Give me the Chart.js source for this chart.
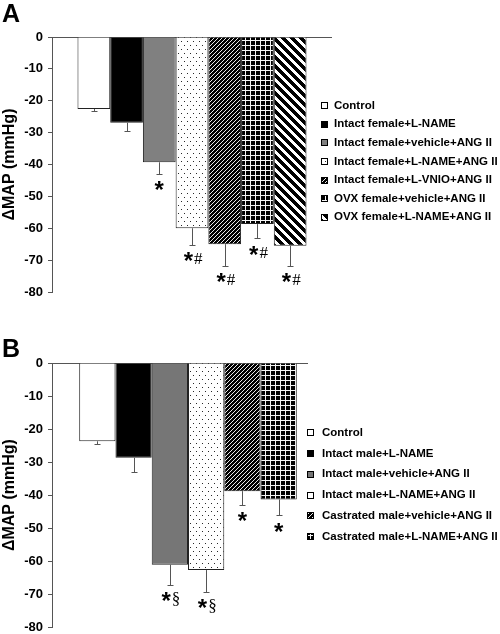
<!DOCTYPE html>
<html lang="en">
<head>
  <meta charset="UTF-8">
  <title>Delta MAP</title>
  <script src="https://cdn.jsdelivr.net/npm/chart.js"></script>
  <style>
    body { margin: 0; width: 500px; height: 634px; overflow: hidden; position: relative; background: #fff; }
    canvas { position: absolute; left: 0; display: block; }
  </style>
</head>
<body>
  <canvas id="chartA" width="500" height="310" style="top:0"></canvas>
  <canvas id="chartB" width="500" height="330" style="top:310px"></canvas>

  <script>
    // panel A - female groups
    const groupsA = ['Control', 'Intact female+L-NAME', 'Intact female+vehicle+ANG II',
      'Intact female+L-NAME+ANG II', 'Intact female+L-VNIO+ANG II',
      'OVX female+vehicle+ANG II', 'OVX female+L-NAME+ANG II'];
    const meanA = [-22.6, -26.9, -39.3, -60.0, -65.0, -58.7, -65.5];
    const semA = [0.7, 2.6, 3.6, 5.2, 6.7, 4.4, 6.2];
    const markA = ['', '', '*', '*#', '*#', '*#', '*#'];
    const fillA = ['white', 'black', 'grayA', 'dots', 'hatch', 'grid', 'stripes'];

    // panel B - male groups
    const groupsB = ['Control', 'Intact male+L-NAME', 'Intact male+vehicle+ANG II',
      'Intact male+L-NAME+ANG II', 'Castrated male+vehicle+ANG II', 'Castrated male+L-NAME+ANG II'];
    const meanB = [-23.7, -28.7, -61.1, -62.7, -38.8, -41.3];
    const semB = [0.8, 4.4, 6.1, 6.6, 4.1, 4.8];
    const markB = ['', '', '*§', '*§', '*', '*'];
    const fillB = ['white', 'black', 'grayB', 'dots', 'hatch', 'grid'];

    const yMin = -80, yMax = 0, yStep = 10;
    const yTitle = 'ΔMAP (mmHg)';

    const SANS = '"Liberation Sans", Arial, sans-serif';
    const SERIF = '"Liberation Serif", "Times New Roman", serif';

    function tile(ctx, w, h, fn) {
      const c = document.createElement('canvas');
      c.width = w; c.height = h;
      const g = c.getContext('2d');
      const img = g.createImageData(w, h);
      for (let y = 0; y < h; y++) {
        for (let x = 0; x < w; x++) {
          const v = fn(x, y);
          const i = (y * w + x) * 4;
          img.data[i] = img.data[i + 1] = img.data[i + 2] = v;
          img.data[i + 3] = 255;
        }
      }
      g.putImageData(img, 0, 0);
      return ctx.createPattern(c, 'repeat');
    }

    function fills(ctx) {
      return {
        white: '#ffffff',
        black: '#000000',
        grayA: '#808080',
        grayB: '#767676',
        dots: tile(ctx, 6, 8, (x, y) => ((x === 1 && y === 1) || (x === 4 && y === 5)) ? 40 : 255),
        hatch: tile(ctx, 4, 4, (x, y) => ((x + y) % 4 === 3) ? 235 : 0),
        grid: tile(ctx, 5, 5, (x, y) => (x === 0 || y === 0) ? 245 : 0),
        stripes: tile(ctx, 9, 9, (x, y) => (((x - y) % 9 + 9) % 9 < 5) ? 0 : 255)
      };
    }

    const extras = {
      id: 'extras',
      afterDatasetsDraw(chart, args, opts) {
        const ctx = chart.ctx;
        const ys = chart.scales.y;
        ctx.save();
        chart.data.datasets.forEach((ds, i) => {
          const bar = chart.getDatasetMeta(i).data[0];
          const yEnd = ys.getPixelForValue(ds.data[0] - opts.sem[i]);
          const x = Math.round(bar.x) + 0.5;
          ctx.strokeStyle = '#555';
          ctx.lineWidth = 1;
          ctx.beginPath();
          ctx.moveTo(x, bar.y);
          ctx.lineTo(x, Math.round(yEnd) + 0.5);
          ctx.moveTo(x - 3, Math.round(yEnd) + 0.5);
          ctx.lineTo(x + 3, Math.round(yEnd) + 0.5);
          ctx.stroke();

          const mark = opts.marks[i];
          if (!mark) return;
          const sym = mark.slice(1);
          ctx.fillStyle = '#000';
          ctx.font = 'bold 24px ' + SANS;
          let m = ctx.measureText('*');
          let base = yEnd + 12 + (m.actualBoundingBoxAscent - m.actualBoundingBoxDescent) / 2;
          ctx.textBaseline = 'alphabetic';
          if (sym) {
            ctx.textAlign = 'right';
            ctx.fillText('*', bar.x + 1, base);
            ctx.font = '17px ' + SERIF;
            m = ctx.measureText(sym);
            base = yEnd + 14 + (m.actualBoundingBoxAscent - m.actualBoundingBoxDescent) / 2;
            ctx.textAlign = 'left';
            ctx.fillText(sym, bar.x + 2, base);
          } else {
            ctx.textAlign = 'center';
            ctx.fillText('*', bar.x, base);
          }
        });
        ctx.restore();
      },
      afterDraw(chart, args, opts) {
        const ctx = chart.ctx;
        const area = chart.chartArea;
        ctx.save();
        // legend with a white background over the plot edge
        const lg = opts.legend;
        ctx.fillStyle = '#fff';
        ctx.fillRect(lg.bgX, area.top - 2, chart.width - lg.bgX, area.bottom - area.top + 4);
        ctx.font = 'bold 11.5px ' + SANS;
        ctx.textBaseline = 'middle';
        ctx.textAlign = 'left';
        chart.data.datasets.forEach((ds, i) => {
          const y = lg.y0 + i * lg.dy;
          ctx.fillStyle = ds.backgroundColor;
          ctx.fillRect(lg.boxX, Math.round(y - 3.5), 7, 7);
          ctx.strokeStyle = '#000';
          ctx.lineWidth = 1;
          ctx.strokeRect(lg.boxX + 0.5, Math.round(y - 3.5) + 0.5, 6, 6);
          ctx.fillStyle = '#000';
          ctx.fillText(ds.label, lg.textX, y);
        });
        // panel letter
        ctx.font = 'bold 25px ' + SANS;
        ctx.textBaseline = 'alphabetic';
        ctx.fillText(opts.letter.text, opts.letter.x, opts.letter.y);
        ctx.restore();
      }
    };

    function makeChart(id, groups, means, sems, marks, fillKeys, catPct, padding, legend, letter) {
      const ctx = document.getElementById(id).getContext('2d');
      const pal = fills(ctx);
      return new Chart(ctx, {
        type: 'bar',
        data: {
          labels: [''],
          datasets: groups.map((g, i) => ({
            label: g,
            data: [means[i]],
            backgroundColor: pal[fillKeys[i]],
            borderColor: '#222',
            borderWidth: 1,
            categoryPercentage: catPct,
            barPercentage: 1
          }))
        },
        options: {
          responsive: false,
          animation: false,
          layout: { padding: padding },
          plugins: {
            legend: { display: false },
            tooltip: { enabled: false },
            extras: { sem: sems, marks: marks, legend: legend, letter: letter }
          },
          scales: {
            x: { display: false },
            y: {
              min: yMin,
              max: yMax,
              afterFit(scale) { scale.width = 52; },
              ticks: {
                stepSize: yStep,
                padding: 5,
                color: '#000',
                font: { family: SANS, size: 13, weight: 'bold' }
              },
              grid: {
                color: c => (c.tick && c.tick.value === 0) ? '#555' : 'rgba(0,0,0,0)',
                tickColor: '#555',
                tickLength: 4
              },
              border: { display: true, color: '#555', width: 1 },
              title: {
                display: true,
                text: yTitle,
                color: '#000',
                padding: { top: 0, bottom: 0 },
                font: { family: SANS, size: 16, weight: 'bold', lineHeight: 1.2 }
              }
            }
          }
        },
        plugins: [extras]
      });
    }

    makeChart('chartA', groupsA, meanA, semA, markA, fillA, 0.818,
      { top: 37, bottom: 18, left: 0, right: 168 },
      { boxX: 321, textX: 334, y0: 105.7, dy: 18.6, bgX: 333 },
      { text: 'A', x: 2, y: 22 });

    makeChart('chartB', groupsB, meanB, semB, markB, fillB, 0.80,
      { top: 53, bottom: 12, left: 0, right: 176 },
      { boxX: 307, textX: 322, y0: 122.7, dy: 20.8, bgX: 308 },
      { text: 'B', x: 2, y: 47 });
  </script>
</body>
</html>
